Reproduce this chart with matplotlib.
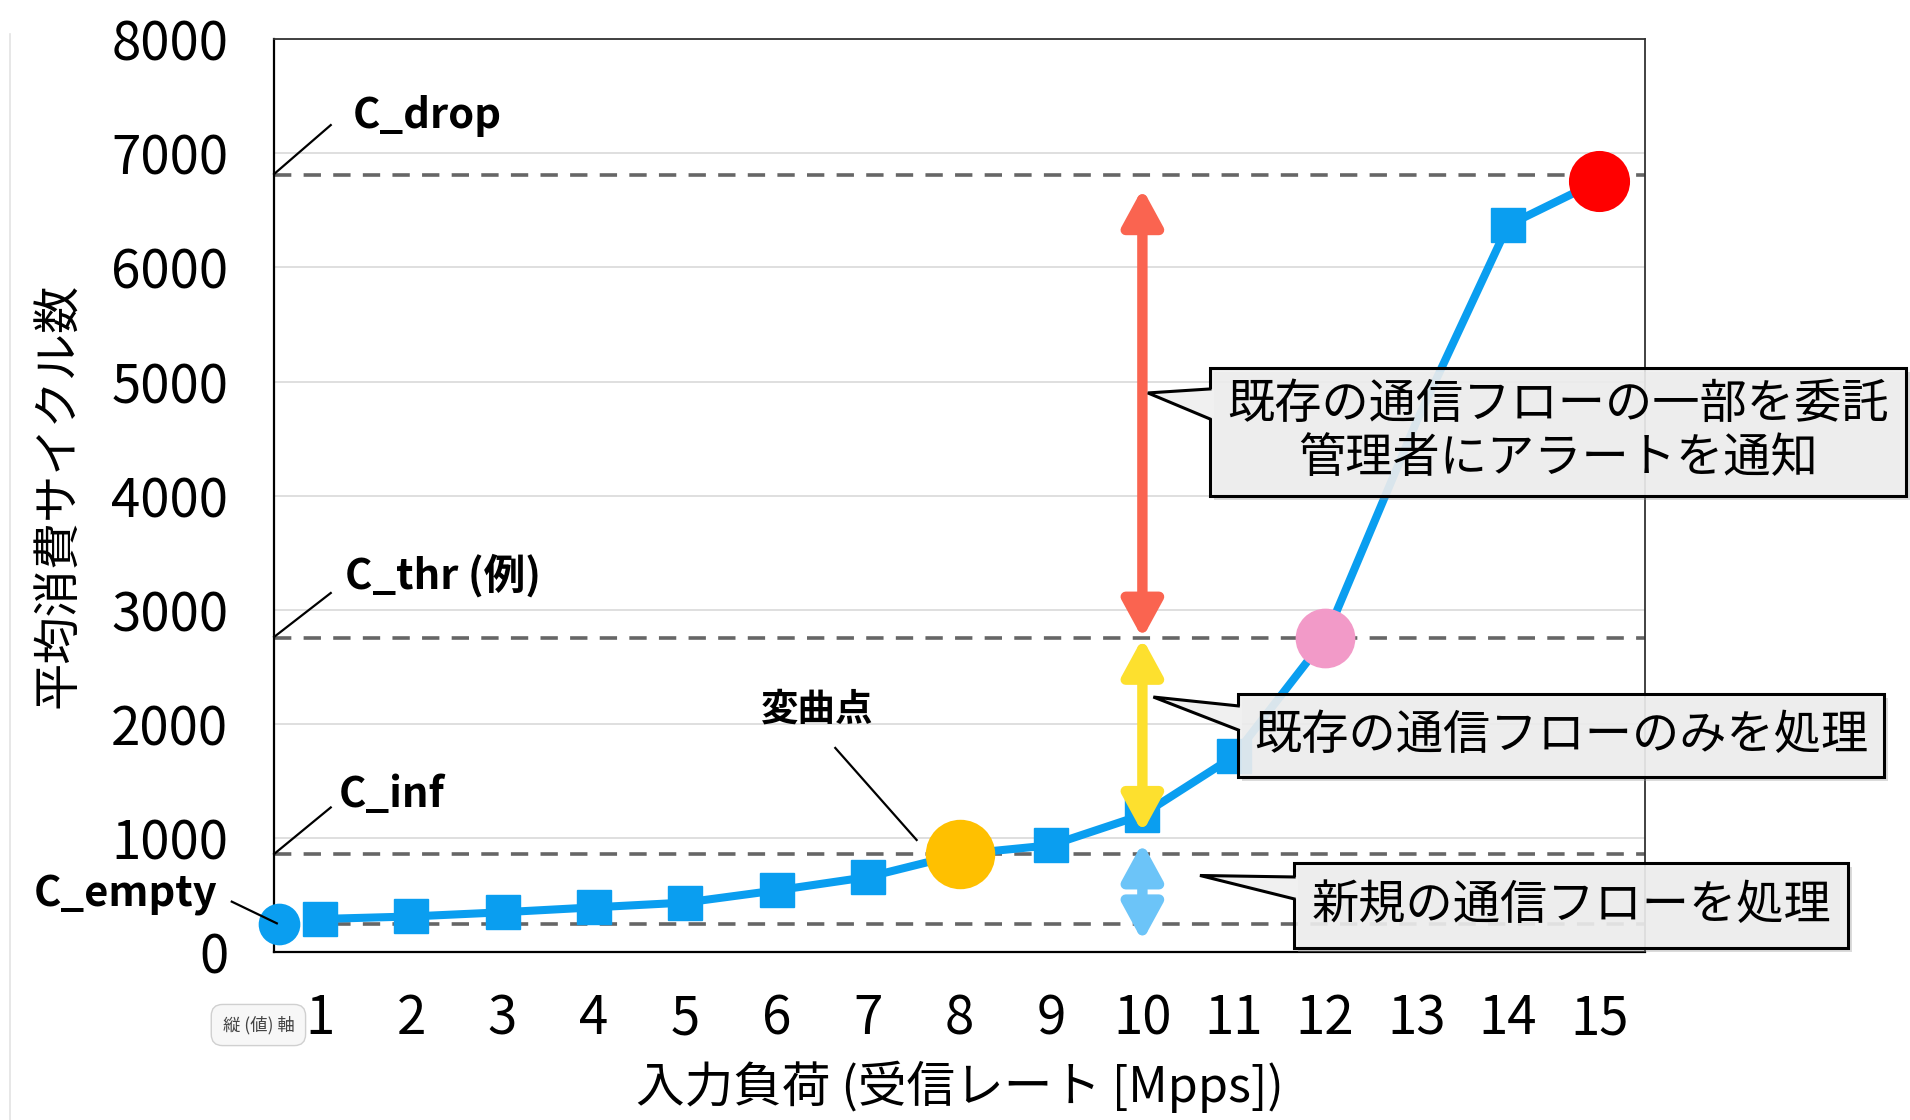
import matplotlib
matplotlib.use('Agg')
import matplotlib.pyplot as plt
from matplotlib.patches import FancyArrowPatch, Rectangle, Polygon
from matplotlib.lines import Line2D
from matplotlib.transforms import offset_copy

plt.rcParams['font.family'] = ['Noto Sans CJK JP', 'DejaVu Sans']

# ---------------- data ----------------
x_load = list(range(1, 16))
cycles = [293, 315, 352, 395, 437, 544, 661, 860, 939, 1205, 1717, 2750, 4650, 6368, 6760]
square_marks = [0, 1, 2, 3, 4, 5, 6, 7, 8, 9, 10, 11, 13, 14]

y_ticks = [0, 1000, 2000, 3000, 4000, 5000, 6000, 7000, 8000]

level_names = ['C_empty', 'C_inf', 'C_thr (例)', 'C_drop']
level_values = [246, 858, 2752, 6812]

hl_x = [0.55, 8, 12, 15]
hl_y = [246, 860, 2752, 6760]
hl_colors = ['#0A9EF0', '#FFC000', '#F29AC8', '#FF0000']
hl_sizes = [30, 50, 43, 44]

arrow_x = 10
arrow_spans = [(6690, 2752), (2752, 1050), (960, 100)]
arrow_colors = ['#FA6450', '#FDE02E', '#6CC4F8']

callout_texts = ['既存の通信フローの一部を委託\n管理者にアラートを通知',
                 '既存の通信フローのみを処理',
                 '新規の通信フローを処理']
# box (left, right, bottom, top), wedge tip (x, y), wedge base (y_top, y_bottom)
callout_boxes = [(10.74, 18.35, 3998, 5118), (11.05, 18.11, 1537, 2267), (11.66, 17.72, 39, 779)]
callout_tips = [(10.06, 4900), (10.12, 2237), (10.63, 674)]
callout_bases = [(4935, 4672), (2159, 1948), (661, 469)]

xlabel = '入力負荷 (受信レート [Mpps])'
ylabel = '平均消費サイクル数'

# ---------------- figure ----------------
fig = plt.figure(figsize=(19.1, 11.2), dpi=100)
ax = fig.add_axes([0.1435, 0.1496, 0.7178, 0.8156])
ax.set_xlim(0.5, 15.5)
ax.set_ylim(0, 8000)

ax.set_yticks(y_ticks)
ax.set_xticks(x_load)
ax.tick_params(axis='both', length=0, labelsize=38, colors='black')
ax.tick_params(axis='y', pad=33)
ax.tick_params(axis='x', pad=28)
ax.grid(axis='y', color='#d9d9d9', lw=1.2, zorder=0)
ax.set_axisbelow(True)
for s in ax.spines.values():
    s.set_color('#333333')
    s.set_linewidth(1.3)
ax.spines['left'].set_color('black')
ax.spines['bottom'].set_color('black')
ax.spines['left'].set_linewidth(1.6)
ax.spines['bottom'].set_linewidth(1.6)

ax.set_xlabel(xlabel, fontsize=35)
ax.set_ylabel(ylabel, fontsize=34)
ax.xaxis.set_label_coords(0.5, -0.118)
ax.yaxis.set_label_coords(-0.139, 0.5)

# threshold dashed lines
for v in level_values:
    ax.axhline(v, color='#666666', lw=2.6, dashes=(4.8, 3.4), zorder=2)

# main series
ax.plot(x_load, cycles, color='#0A9EF0', lw=5.8, marker='s', markersize=24,
        markevery=square_marks, zorder=4)

# highlight circles
for hx, hy, hc, hs in zip(hl_x, hl_y, hl_colors, hl_sizes):
    ax.plot([hx], [hy], 'o', color=hc, markersize=hs, markeredgewidth=0,
            zorder=5, clip_on=False)

# double arrows
for (y0, y1), c in zip(arrow_spans, arrow_colors):
    arr = FancyArrowPatch((arrow_x, y0), (arrow_x, y1),
                          arrowstyle='<|-|>,head_length=22,head_width=12',
                          mutation_scale=1, lw=7.5, color=c,
                          shrinkA=0, shrinkB=0, zorder=6)
    ax.add_patch(arr)

# callouts
shadow_tr = offset_copy(ax.transData, fig=fig, x=4, y=-4, units='dots')
for txt, (l, r, b, t), (tx, ty), (byt, byb) in zip(callout_texts, callout_boxes,
                                                   callout_tips, callout_bases):
    sh = Rectangle((l, b), r - l, t - b, transform=shadow_tr, facecolor='#999999',
                   alpha=0.35, edgecolor='none', zorder=6.5, clip_on=False)
    ax.add_patch(sh)
    box = Rectangle((l, b), r - l, t - b, facecolor=(0.94, 0.94, 0.94, 0.88),
                    edgecolor='black', lw=2.2, zorder=7, clip_on=False)
    ax.add_patch(box)
    d = 0.04
    wedge = Polygon([(tx, ty), (l, byt), (l + d, byt), (l + d, byb), (l, byb)],
                    closed=True, facecolor=(0.94, 0.94, 0.94), edgecolor='none',
                    zorder=7.2, clip_on=False)
    ax.add_patch(wedge)
    ax.add_line(Line2D([l, tx, l], [byt, ty, byb], color='black', lw=2.2,
                       zorder=7.3, clip_on=False, solid_joinstyle='miter'))
    ax.text((l + r) / 2, (b + t) / 2, txt, ha='center', va='center',
            multialignment='center', fontsize=34, linespacing=1.15,
            color='black', zorder=8, clip_on=False)

# level labels with leader lines
label_pos = [(-2.13, 504), (1.21, 1379), (1.28, 3297), (1.36, 7325)]
leader_lines = [((0.037, 0.53), (445, 255)), ((0.5, 1.12), (862, 1270)),
                ((0.5, 1.12), (2763, 3148)), ((0.5, 1.12), (6817, 7246))]
for name, (px, py), (lx, ly) in zip(level_names, label_pos, leader_lines):
    ax.text(px, py, name, ha='left', va='center', fontsize=30,
            fontweight='bold', color='black', zorder=8, clip_on=False)
    ax.add_line(Line2D(lx, ly, color='black', lw=1.6, zorder=8, clip_on=False))

ax.text(6.44, 2133, '変曲点', ha='center', va='center', fontsize=27,
        fontweight='bold', color='black', zorder=8)
ax.add_line(Line2D([6.64, 7.53], [1791, 985], color='black', lw=1.6, zorder=8))

# tooltip artifact
fig.text(0.1353, 0.0848, '縦 (値) 軸', fontsize=12.5, ha='center', va='center',
         color='#444444', zorder=10,
         bbox=dict(boxstyle='round,pad=0.65', fc='#f7f7f7', ec='#d0d0d0', lw=1))

# thin left border line
fig.add_artist(Line2D([0.005, 0.005], [0, 0.97], transform=fig.transFigure,
                      color='#e3e3e3', lw=1.2))

fig.savefig('out.png', dpi=100)
